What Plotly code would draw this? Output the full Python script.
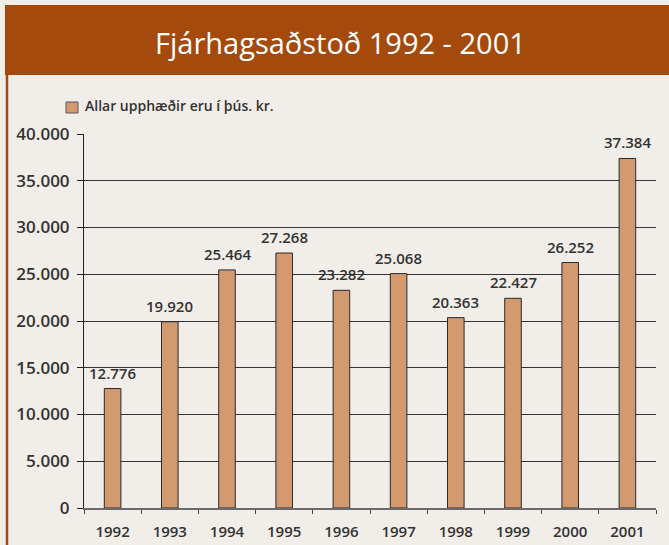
import plotly.graph_objects as go

years = ["1992", "1993", "1994", "1995", "1996", "1997", "1998", "1999", "2000", "2001"]
values = [12776, 19920, 25464, 27268, 23282, 25068, 20363, 22427, 26252, 37384]
y_ticks = [0, 5000, 10000, 15000, 20000, 25000, 30000, 35000, 40000]
title_text = "Fjárhagsaðstoð 1992 - 2001"
legend_text = "Allar upphæðir eru í þús. kr."

W, H = 669, 545
L, R, T, B = 84, 656, 134, 508  # plot area in px


def px_x(px):
    return (px - L) / (R - L)


def px_y(py):
    return (B - py) / (B - T)


def fmt(v):
    return f"{v:,}".replace(",", ".")


BAR = "#D39A70"
DARK = "#333333"
BROWN = "#A34A0C"
FONT = "Open Sans"

fig = go.Figure()
fig.add_trace(go.Bar(
    x=years, y=values, width=0.29,
    marker=dict(color=BAR, line=dict(color="#2a2a2a", width=1)),
    showlegend=False, hoverinfo="x+y",
))

annotations = []
for i, v in enumerate(values):
    annotations.append(dict(
        x=i, y=v, xref="x", yref="y", text=fmt(v), showarrow=False,
        yanchor="bottom", yshift=4,
        font=dict(family=FONT, size=15, color=DARK, weight=600),
    ))

annotations.append(dict(
    x=px_x(340), y=px_y(43), xref="paper", yref="paper", text=title_text,
    showarrow=False, xanchor="center", yanchor="middle",
    font=dict(family=FONT, size=29, color="white", weight=500),
))
annotations.append(dict(
    x=px_x(83), y=px_y(106), xref="paper", yref="paper", text=legend_text,
    showarrow=False, xanchor="left", yanchor="middle",
    font=dict(family=FONT, size=14, color=DARK, weight=600),
))

shapes = [
    dict(type="rect", xref="paper", yref="paper",
         x0=px_x(5), x1=px_x(675), y0=px_y(75), y1=px_y(5),
         fillcolor=BROWN, line=dict(width=0), layer="below"),
    dict(type="line", xref="paper", yref="paper",
         x0=px_x(7), x1=px_x(7), y0=px_y(75), y1=px_y(550),
         line=dict(color=BROWN, width=2.5)),
    dict(type="rect", xref="paper", yref="paper",
         x0=px_x(66), x1=px_x(78), y0=px_y(113), y1=px_y(102),
         fillcolor=BAR, line=dict(color="#555555", width=1)),
]

fig.update_layout(
    width=W, height=H,
    margin=dict(l=L, r=W - R, t=T, b=H - B, pad=0),
    paper_bgcolor="#F1EDE8", plot_bgcolor="rgba(0,0,0,0)",
    separators=",.",
    bargap=0.7,
    annotations=annotations, shapes=shapes,
    xaxis=dict(
        type="category", range=[-0.5, 9.5], showgrid=False, automargin=False,
        showline=True, linecolor="#6a6a6a", linewidth=2,
        ticks="outside", tickson="boundaries", ticklen=4, tickcolor="#444444",
        tickfont=dict(family=FONT, size=15, color=DARK, weight=600),
        ticklabelstandoff=9,
    ),
    yaxis=dict(
        range=[0, 40000], tickvals=y_ticks, ticktext=[fmt(v) for v in y_ticks],
        showgrid=True, gridcolor="#333333", gridwidth=1, automargin=False,
        showline=True, linecolor="#222222", linewidth=1,
        ticks="outside", ticklen=6, tickcolor="#222222",
        tickfont=dict(family=FONT, size=17, color=DARK, weight=600),
        ticklabelstandoff=4,
        zeroline=False,
    ),
)

fig.write_html(
    "out.html",
    config={"displayModeBar": False},
    post_script="document.body.style.margin='0';document.body.style.overflow='hidden';",
)
